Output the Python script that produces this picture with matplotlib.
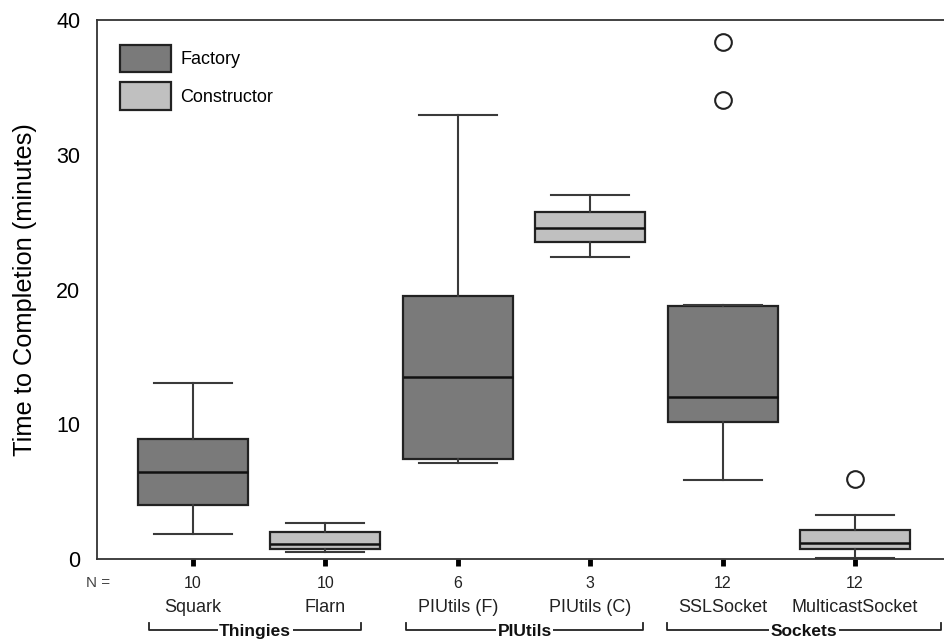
import matplotlib
matplotlib.use("Agg")
import matplotlib.pyplot as plt
from matplotlib.patches import Patch
import matplotlib.transforms as mtransforms

plt.rcParams['font.family'] = ['Liberation Sans', 'DejaVu Sans']

# ---- data ----
categories = ["Squark", "Flarn", "PIUtils (F)", "PIUtils (C)", "SSLSocket", "MulticastSocket"]
n_counts = [10, 10, 6, 3, 12, 12]
kinds = ["Factory", "Constructor", "Factory", "Constructor", "Factory", "Constructor"]
whis_lo = [1.86, 0.52, 7.15, 22.43, 5.86, 0.07]
q1 = [4.0, 0.76, 7.4, 23.55, 10.17, 0.74]
medians = [6.48, 1.14, 13.53, 24.59, 12.0, 1.17]
q3 = [8.9, 2.03, 19.54, 25.73, 18.74, 2.15]
whis_hi = [13.06, 2.69, 32.95, 26.99, 18.86, 3.27]
fliers = [[], [], [], [], [34.06, 38.37], [5.91]]
groups = ["Thingies", "PIUtils", "Sockets"]
group_spans = [(0.67, 2.27), (2.61, 4.40), (4.58, 6.65)]

colors = {"Factory": "#7a7a7a", "Constructor": "#c0c0c0"}
edge = "#222222"

fig = plt.figure(figsize=(9.44, 6.39), dpi=100)
W, H = 944, 639
ax = fig.add_axes([97 / W, 1 - 559 / H, (W - 97) / W, (559 - 20) / H])

positions = list(range(1, len(categories) + 1))
stats = []
for i in range(len(categories)):
    stats.append(dict(med=medians[i], q1=q1[i], q3=q3[i], whislo=whis_lo[i],
                      whishi=whis_hi[i], fliers=fliers[i], label=categories[i]))

bp = ax.bxp(stats, positions=positions, widths=0.83, patch_artist=True,
            capwidths=0.59,
            boxprops=dict(edgecolor=edge, linewidth=1.6),
            medianprops=dict(color="#111111", linewidth=1.8),
            whiskerprops=dict(color="#3a3a3a", linewidth=1.5),
            capprops=dict(color="#3a3a3a", linewidth=1.5),
            flierprops=dict(marker='o', markersize=12, markerfacecolor='white',
                            markeredgecolor='#222222', markeredgewidth=1.5))
for patch, k in zip(bp['boxes'], kinds):
    patch.set_facecolor(colors[k])

ax.set_xlim(0.275, 6.672)
ax.set_ylim(0, 40)
ax.set_yticks([0, 10, 20, 30, 40])
ax.tick_params(axis='y', length=0, pad=12, labelsize=15.5)
ax.set_xticks(positions)
ax.set_xticklabels([])
ax.tick_params(axis='x', length=5, width=3.5, direction='out', color='black')
ax.spines['right'].set_visible(False)
for s in ['left', 'top', 'bottom']:
    ax.spines[s].set_linewidth(1.3)
    ax.spines[s].set_color('#333333')

ax.set_ylabel("Time to Completion (minutes)", fontsize=18.3, labelpad=14)

# N row and category labels
trans = mtransforms.blended_transform_factory(ax.transData, fig.transFigure)
for p, n, c in zip(positions, n_counts, categories):
    ax.text(p, 1 - 583 / H, str(n), transform=trans, ha='center', va='center',
            fontsize=11.5, color='#222222')
    ax.text(p, 1 - 608 / H, c, transform=trans, ha='center', va='center',
            fontsize=13, color='#222222')
fig.text(98 / W, 1 - 583 / H, "N =", ha='center', va='center', fontsize=11,
         color='#444444')

# group brackets
y_top = 1 - 623 / H
y_bot = 1 - 630 / H
for g, (x0, x1) in zip(groups, group_spans):
    ax.plot([x0, x0, x1, x1], [y_top, y_bot, y_bot, y_top], transform=trans,
            color='#222222', linewidth=1.3, clip_on=False)
    xm = (x0 + x1) / 2
    ax.text(xm, 1 - 624 / H, g, transform=trans, ha='center', va='top',
            fontsize=12.5, fontweight='bold', color='#111111',
            bbox=dict(facecolor='white', edgecolor='none', pad=1.0))

# legend
handles = [Patch(facecolor=colors["Factory"], edgecolor=edge, linewidth=1.6, label="Factory"),
           Patch(facecolor=colors["Constructor"], edgecolor=edge, linewidth=1.6, label="Constructor")]
leg = ax.legend(handles=handles, loc='upper left', bbox_to_anchor=(23 / 847, 1 - 25 / 539),
                frameon=False, fontsize=13, handlelength=2.8, handleheight=1.95,
                labelspacing=0.55, handletextpad=0.55, borderaxespad=0, borderpad=0)

fig.savefig("out.png", dpi=100)
